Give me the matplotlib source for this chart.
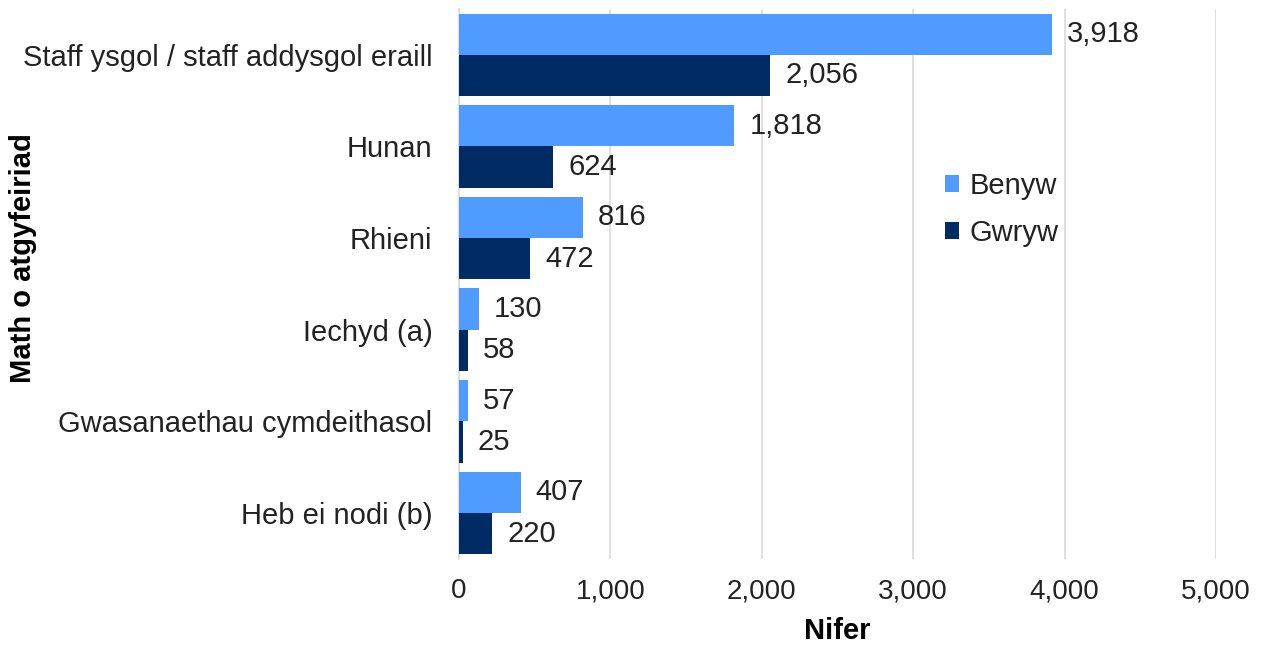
import numpy as np
import matplotlib.pyplot as plt

plt.rcParams['font.family'] = ['Liberation Sans', 'DejaVu Sans']
plt.rcParams['text.color'] = '#222222'

categories = ['Staff ysgol / staff addysgol eraill', 'Hunan', 'Rhieni',
              'Iechyd (a)', 'Gwasanaethau cymdeithasol', 'Heb ei nodi (b)']
benyw = [3918, 1818, 816, 130, 57, 407]
gwryw = [2056, 624, 472, 58, 25, 220]
xticks = [0, 1000, 2000, 3000, 4000, 5000]

fig = plt.figure(figsize=(12.63, 6.46), dpi=100)
ax = fig.add_axes([0.3634, 0.135, 0.5994, 0.851])

y = np.arange(len(categories))
h = 0.45
b1 = ax.barh(y - h / 2, benyw, height=h, color='#4F9BFF', label='Benyw', zorder=3)
b2 = ax.barh(y + h / 2, gwryw, height=h, color='#002B64', label='Gwryw', zorder=3)

for bars, vals in ((b1, benyw), (b2, gwryw)):
    for bar, v in zip(bars, vals):
        ax.text(v + 100, bar.get_y() + bar.get_height() / 2, f'{v:,}',
                va='center', ha='left', fontsize=21, color='#222222')

ax.set_ylim(len(categories) - 0.5, -0.5)
ax.set_xlim(0, 5000)
ax.set_yticks(y)
ax.set_yticklabels(categories, fontsize=21, color='#222222')
ax.set_xticks(xticks)
ax.set_xticklabels([f'{t:,}' for t in xticks], fontsize=20, color='#222222')
ax.tick_params(axis='y', length=0, pad=19)
ax.tick_params(axis='x', length=0, pad=14)
ax.grid(axis='x', color='#D9D9D9', linewidth=1.2, zorder=0)
for s in ['top', 'right', 'bottom']:
    ax.spines[s].set_visible(False)
ax.spines['left'].set_color('#D9D9D9')
ax.spines['left'].set_linewidth(1.2)

ax.set_xlabel('Nifer', fontsize=21, fontweight='bold', labelpad=9)
ax.set_ylabel('Math o atgyfeiriad', fontsize=21, fontweight='bold')
ax.yaxis.set_label_coords(-0.558, 0.547)

ax.legend(loc='center left', bbox_to_anchor=(0.607, 0.636), frameon=False,
          fontsize=21, handlelength=0.5, handleheight=0.5, handletextpad=0.35,
          labelspacing=0.65)

fig.savefig('out.png', dpi=100)
